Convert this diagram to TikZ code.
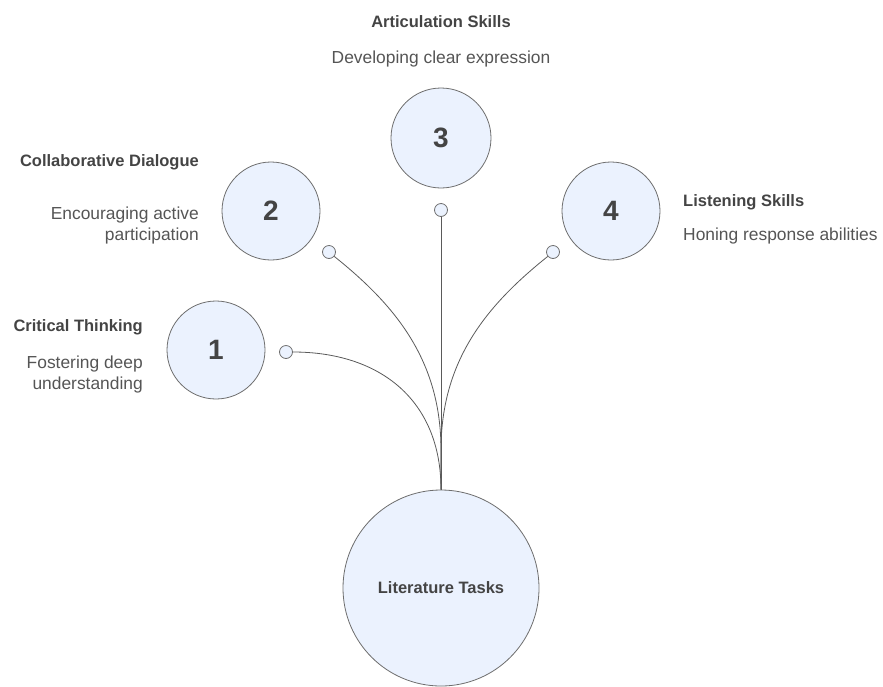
\documentclass[tikz,border=0pt]{standalone}
\usepackage{fontspec}
\setmainfont{Liberation Sans}
\definecolor{cfill}{HTML}{EBF2FE}
\definecolor{cline}{HTML}{6E6E6E}
\definecolor{cwire}{HTML}{5A5A5A}
\definecolor{ctitle}{HTML}{444444}
\definecolor{cdesc}{HTML}{555555}
\begin{document}
\begin{tikzpicture}[x=1pt,y=-1pt,
  bubble/.style={circle,draw=cline,line width=0.8pt,fill=cfill,inner sep=0pt,text=ctitle,font=\fontsize{28}{30}\selectfont\bfseries},
  hub/.style={circle,draw=cline,line width=0.8pt,fill=cfill,inner sep=0pt,minimum size=196pt,text=ctitle,font=\fontsize{16.5}{20}\selectfont\bfseries},
  dot/.style={circle,draw=cline,line width=0.8pt,fill=cfill,inner sep=0pt,minimum size=13pt},
  title/.style={inner sep=0pt,text=ctitle,font=\fontsize{16.5}{20}\selectfont\bfseries},
  desc/.style={inner sep=0pt,text=cdesc,font=\fontsize{17.4}{21}\selectfont},
  link/.style={draw=cwire,line width=0.8pt}]
\useasboundingbox (0,0) rectangle (883,686);

% numbered circles
\node[bubble,minimum size=98pt] (c1) at (216,350) {1};
\node[bubble,minimum size=98pt] (c2) at (271,211) {2};
\node[bubble,minimum size=100pt] (c3) at (441,138) {3};
\node[bubble,minimum size=98pt] (c4) at (611,211) {4};

% hub
\node[hub] (main) at (441,588) {Literature Tasks};

% small end dots
\node[dot] (s1) at (286,352) {};
\node[dot] (s2) at (329,252) {};
\node[dot] (s3) at (441,210) {};
\node[dot] (s4) at (553,252) {};

\coordinate (j2) at (441,450);
\coordinate (j4) at (441,450);

% connectors
\draw[link] (s3.south) -- (main.north);
\draw[link] (s1.east) .. controls (380,352) and (441,400) .. (main.north);
\draw[link] (s2.-40) .. controls (395,305) and (441,360) .. (j2) -- (main.north);
\draw[link] (s4.220) .. controls (487,305) and (441,360) .. (j4) -- (main.north);

% labels
\node[title,anchor=base east] (t1) at (143,331) {Critical Thinking};
\node[desc,anchor=base east] (d1a) at (143,368) {Fostering deep};
\node[desc,anchor=base east] (d1b) at (143,389) {understanding};

\node[title,anchor=base east] (t2) at (199,166) {Collaborative Dialogue};
\node[desc,anchor=base east] (d2a) at (199,219) {Encouraging active};
\node[desc,anchor=base east] (d2b) at (199,240) {participation};

\node[title,anchor=base] (t3) at (441,27) {Articulation Skills};
\node[desc,anchor=base] (d3) at (441,63) {Developing clear expression};

\node[title,anchor=base west] (t4) at (683,206) {Listening Skills};
\node[desc,anchor=base west] (d4) at (683,240) {Honing response abilities};
\end{tikzpicture}
\end{document}
